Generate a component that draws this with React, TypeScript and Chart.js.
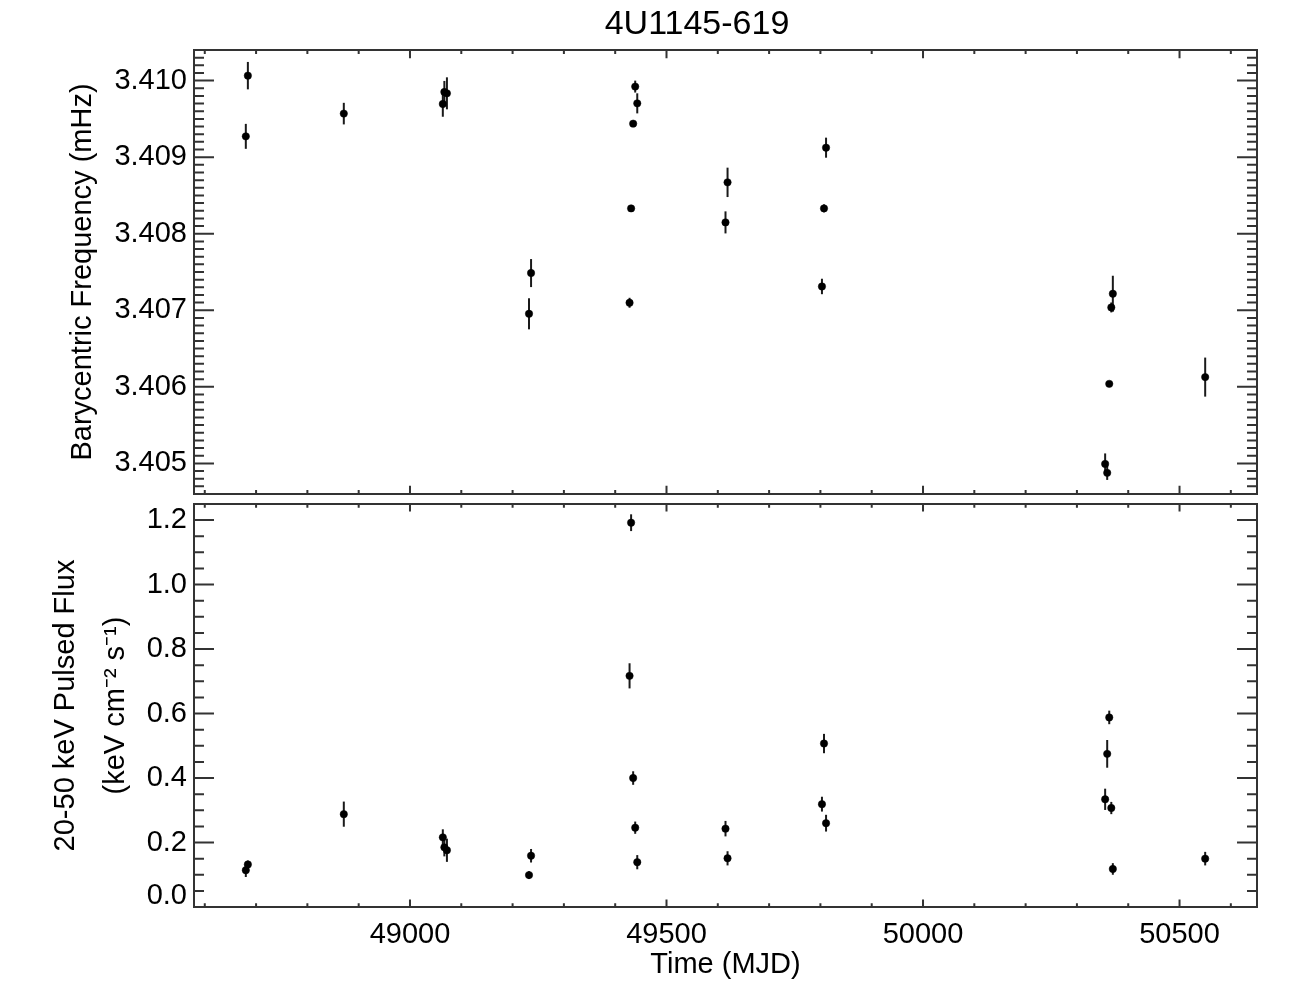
import React, { useEffect, useRef } from 'react';
import { Chart, registerables } from 'chart.js';

Chart.register(...registerables);

// ---------------- data ----------------
const TIME_MJD = [
  48680, 48684, 48871, 49064, 49067, 49072, 49232, 49236, 49428, 49431, 49435, 49439,
  49443, 49615, 49619, 49803, 49807, 49811, 50355, 50359, 50363, 50367, 50370, 50550,
];
const FREQ_MHZ = [
  3.409272, 3.410065, 3.409569, 3.409695, 3.409852, 3.409834, 3.406954, 3.407486,
  3.407098, 3.408331, 3.409438, 3.409922, 3.409703, 3.408148, 3.408671, 3.407311,
  3.408331, 3.409124, 3.404993, 3.404876, 3.406039, 3.407037, 3.407216, 3.406127,
];
const FREQ_ERR = [
  0.000163, 0.000179, 0.000141, 0.000167, 0.000144, 0.000209, 0.000203, 0.000183,
  0.000065, 0.000026, 0.000026, 0.000078, 0.000131, 0.000144, 0.000192, 0.000101,
  0.000052, 0.000131, 0.000137, 0.000092, 0.000026, 0.000065, 0.000235, 0.000255,
];
const FLUX = [
  0.114, 0.132, 0.288, 0.216, 0.185, 0.176, 0.099, 0.159, 0.717, 1.192, 0.4, 0.246,
  0.139, 0.243, 0.151, 0.319, 0.507, 0.26, 0.334, 0.475, 0.588, 0.307, 0.118, 0.15,
];
const FLUX_ERR = [
  0.021, 0.012, 0.039, 0.025, 0.028, 0.036, 0.012, 0.021, 0.039, 0.026, 0.021, 0.019,
  0.022, 0.024, 0.022, 0.023, 0.03, 0.026, 0.033, 0.043, 0.021, 0.019, 0.018, 0.021,
];

const TIME_RANGE = [48579, 50651];
const FREQ_RANGE = [3.4046, 3.4104];
const FLUX_RANGE = [0, 1.25];

const TIME_TICKS = [49000, 49500, 50000, 50500];
const TIME_MINOR_STEP = 100;
const FREQ_TICKS = [3.405, 3.406, 3.407, 3.408, 3.409, 3.41];
const FREQ_MINOR_STEP = 0.0001;
const FLUX_TICKS = [0.0, 0.2, 0.4, 0.6, 0.8, 1.0, 1.2];
const FLUX_MINOR_STEP = 0.05;

const TITLE = '4U1145-619';
const FREQ_LABEL = 'Barycentric Frequency (mHz)';
const FLUX_LABEL = ['20-50 keV Pulsed Flux', '(keV cm\u207B\u00B2 s\u207B\u00B9)'];
const TIME_LABEL = 'Time (MJD)';

// ---------------- helpers ----------------
const FONT = "'Liberation Sans', Arial, Helvetica, sans-serif";
const AXIS_COLOR = '#333333';

function minorValues(min: number, max: number, step: number): number[] {
  const out: number[] = [];
  const k0 = Math.ceil(min / step - 1e-6);
  const k1 = Math.floor(max / step + 1e-6);
  for (let k = k0; k <= k1; k++) out.push(k * step);
  return out;
}

function framePlugin(id: string, xMajor: number[], xStep: number, yMajor: number[], yStep: number) {
  return {
    id,
    afterDatasetsDraw(chart: any) {
      const { ctx, chartArea } = chart;
      const xs = chart.scales.x;
      const ys = chart.scales.y;
      const { left, right, top, bottom } = chartArea;
      const h = bottom - top;
      const w = right - left;
      const xMajLen = h * 0.0185;
      const yMajLen = w * 0.0188;
      ctx.save();
      ctx.strokeStyle = AXIS_COLOR;
      ctx.lineWidth = 2;
      ctx.beginPath();
      const drawX = (v: number, len: number) => {
        const p = xs.getPixelForValue(v);
        if (p < left - 0.5 || p > right + 0.5) return;
        ctx.moveTo(p, bottom);
        ctx.lineTo(p, bottom - len);
        ctx.moveTo(p, top);
        ctx.lineTo(p, top + len);
      };
      const drawY = (v: number, len: number) => {
        const p = ys.getPixelForValue(v);
        if (p < top - 0.5 || p > bottom + 0.5) return;
        ctx.moveTo(left, p);
        ctx.lineTo(left + len, p);
        ctx.moveTo(right, p);
        ctx.lineTo(right - len, p);
      };
      minorValues(xs.min, xs.max, xStep).forEach((v) => drawX(v, xMajLen / 2));
      xMajor.forEach((v) => drawX(v, xMajLen));
      minorValues(ys.min, ys.max, yStep).forEach((v) => drawY(v, yMajLen / 2));
      yMajor.forEach((v) => drawY(v, yMajLen));
      ctx.stroke();
      ctx.strokeRect(left, top, w, h);
      ctx.restore();
    },
  };
}

const errorBarPlugin = {
  id: 'errorBars',
  beforeDatasetsDraw(chart: any) {
    const { ctx, chartArea } = chart;
    const xs = chart.scales.x;
    const ys = chart.scales.y;
    ctx.save();
    ctx.beginPath();
    ctx.rect(chartArea.left, chartArea.top, chartArea.right - chartArea.left, chartArea.bottom - chartArea.top);
    ctx.clip();
    ctx.strokeStyle = '#1a1a1a';
    ctx.lineWidth = 2;
    chart.data.datasets.forEach((ds: any) => {
      const errs: number[] = ds.errors || [];
      ds.data.forEach((pt: any, i: number) => {
        const e = errs[i] || 0;
        if (!e) return;
        const px = xs.getPixelForValue(pt.x);
        ctx.beginPath();
        ctx.moveTo(px, ys.getPixelForValue(pt.y - e));
        ctx.lineTo(px, ys.getPixelForValue(pt.y + e));
        ctx.stroke();
      });
    });
    ctx.restore();
  },
};

const titlePlugin = {
  id: 'mainTitle',
  afterDraw(chart: any) {
    const { ctx } = chart;
    ctx.save();
    ctx.fillStyle = '#000';
    ctx.font = `34px ${FONT}`;
    ctx.textAlign = 'center';
    ctx.textBaseline = 'middle';
    ctx.fillText(TITLE, 697, 25);
    ctx.restore();
  },
};

function setTicks(values: number[]) {
  return (scale: any) => {
    scale.ticks = values.map((v) => ({ value: v }));
  };
}

const dataset = (ys: number[], errs: number[]) => ({
  data: TIME_MJD.map((t, i) => ({ x: t, y: ys[i] })),
  errors: errs,
  showLine: false,
  pointRadius: 3.7,
  pointHoverRadius: 3.7,
  pointBackgroundColor: '#000',
  pointBorderColor: '#000',
  pointBorderWidth: 0.5,
});

// page layout (px)
const TOP_CANVAS_H = 524; // chart area 50..494
const BOT_CANVAS_TOP = 474; // chart area 504..907
const BOT_CANVAS_H = 1008 - BOT_CANVAS_TOP;

export default function App() {
  const topRef = useRef<HTMLCanvasElement | null>(null);
  const botRef = useRef<HTMLCanvasElement | null>(null);

  useEffect(() => {
    const tickFont = { family: FONT, size: 29, lineHeight: 1.2 };
    const top = new Chart(topRef.current as HTMLCanvasElement, {
      type: 'scatter',
      data: { datasets: [dataset(FREQ_MHZ, FREQ_ERR) as any] },
      options: {
        animation: false,
        responsive: false,
        maintainAspectRatio: false,
        layout: { padding: { left: 0, right: 39, top: 50, bottom: TOP_CANVAS_H - 494 } },
        plugins: { legend: { display: false }, tooltip: { enabled: false }, title: { display: false } },
        scales: {
          x: { type: 'linear', min: TIME_RANGE[0], max: TIME_RANGE[1], display: false },
          y: {
            type: 'linear',
            min: FREQ_RANGE[0],
            max: FREQ_RANGE[1],
            afterBuildTicks: setTicks(FREQ_TICKS),
            afterFit: (s: any) => {
              s.width = 194;
            },
            grid: { display: false, drawTicks: false },
            border: { display: false },
            ticks: {
              font: tickFont,
              color: '#000',
              padding: 7,
              autoSkip: false,
              callback: (v: any) => Number(v).toFixed(3),
            },
            title: {
              display: true,
              text: FREQ_LABEL,
              color: '#000',
              font: { family: FONT, size: 29, lineHeight: 1.2 },
              padding: { top: 66, bottom: 0 },
            },
          },
        },
      } as any,
      plugins: [errorBarPlugin, framePlugin('frameTop', TIME_TICKS, TIME_MINOR_STEP, FREQ_TICKS, FREQ_MINOR_STEP), titlePlugin],
    });

    const bottom = new Chart(botRef.current as HTMLCanvasElement, {
      type: 'scatter',
      data: { datasets: [dataset(FLUX, FLUX_ERR) as any] },
      options: {
        animation: false,
        responsive: false,
        maintainAspectRatio: false,
        layout: { padding: { left: 0, right: 39, top: 504 - BOT_CANVAS_TOP, bottom: 0 } },
        plugins: { legend: { display: false }, tooltip: { enabled: false }, title: { display: false } },
        scales: {
          x: {
            type: 'linear',
            min: TIME_RANGE[0],
            max: TIME_RANGE[1],
            afterBuildTicks: setTicks(TIME_TICKS),
            afterFit: (s: any) => {
              s.height = 101;
            },
            grid: { display: false, drawTicks: false },
            border: { display: false },
            ticks: {
              font: tickFont,
              color: '#000',
              padding: 11,
              autoSkip: false,
              maxRotation: 0,
              callback: (v: any) => String(v),
            },
            title: {
              display: true,
              text: TIME_LABEL,
              color: '#000',
              font: { family: FONT, size: 29, lineHeight: 1.2 },
              padding: { top: 0, bottom: 26 },
            },
          },
          y: {
            type: 'linear',
            min: FLUX_RANGE[0],
            max: FLUX_RANGE[1],
            afterBuildTicks: setTicks(FLUX_TICKS),
            afterFit: (s: any) => {
              s.width = 194;
            },
            grid: { display: false, drawTicks: false },
            border: { display: false },
            ticks: {
              // the lowest label sits slightly raised above the axis corner, as in the reference
              font: (c: any) =>
                c.tick && c.tick.value === 0
                  ? { family: FONT, size: 29, lineHeight: '22px' }
                  : tickFont,
              color: '#000',
              padding: 7,
              autoSkip: false,
              callback: (v: any) => (Number(v) === 0 ? ['0.0', ''] : Number(v).toFixed(1)),
            },
            title: {
              display: true,
              text: FLUX_LABEL,
              color: '#000',
              font: { family: FONT, size: 29, lineHeight: 50 / 29 },
              padding: { top: 41, bottom: 0 },
            },
          },
        },
      } as any,
      plugins: [errorBarPlugin, framePlugin('frameBottom', TIME_TICKS, TIME_MINOR_STEP, FLUX_TICKS, FLUX_MINOR_STEP)],
    });

    return () => {
      top.destroy();
      bottom.destroy();
    };
  }, []);

  return (
    <div style={{ position: 'absolute', left: 0, top: 0, width: 1296, height: 1008, background: '#fff' }}>
      <canvas
        ref={topRef}
        width={1296}
        height={TOP_CANVAS_H}
        style={{ position: 'absolute', left: 0, top: 0, width: 1296, height: TOP_CANVAS_H, display: 'block' }}
      />
      <canvas
        ref={botRef}
        width={1296}
        height={BOT_CANVAS_H}
        style={{ position: 'absolute', left: 0, top: BOT_CANVAS_TOP, width: 1296, height: BOT_CANVAS_H, display: 'block' }}
      />
    </div>
  );
}
